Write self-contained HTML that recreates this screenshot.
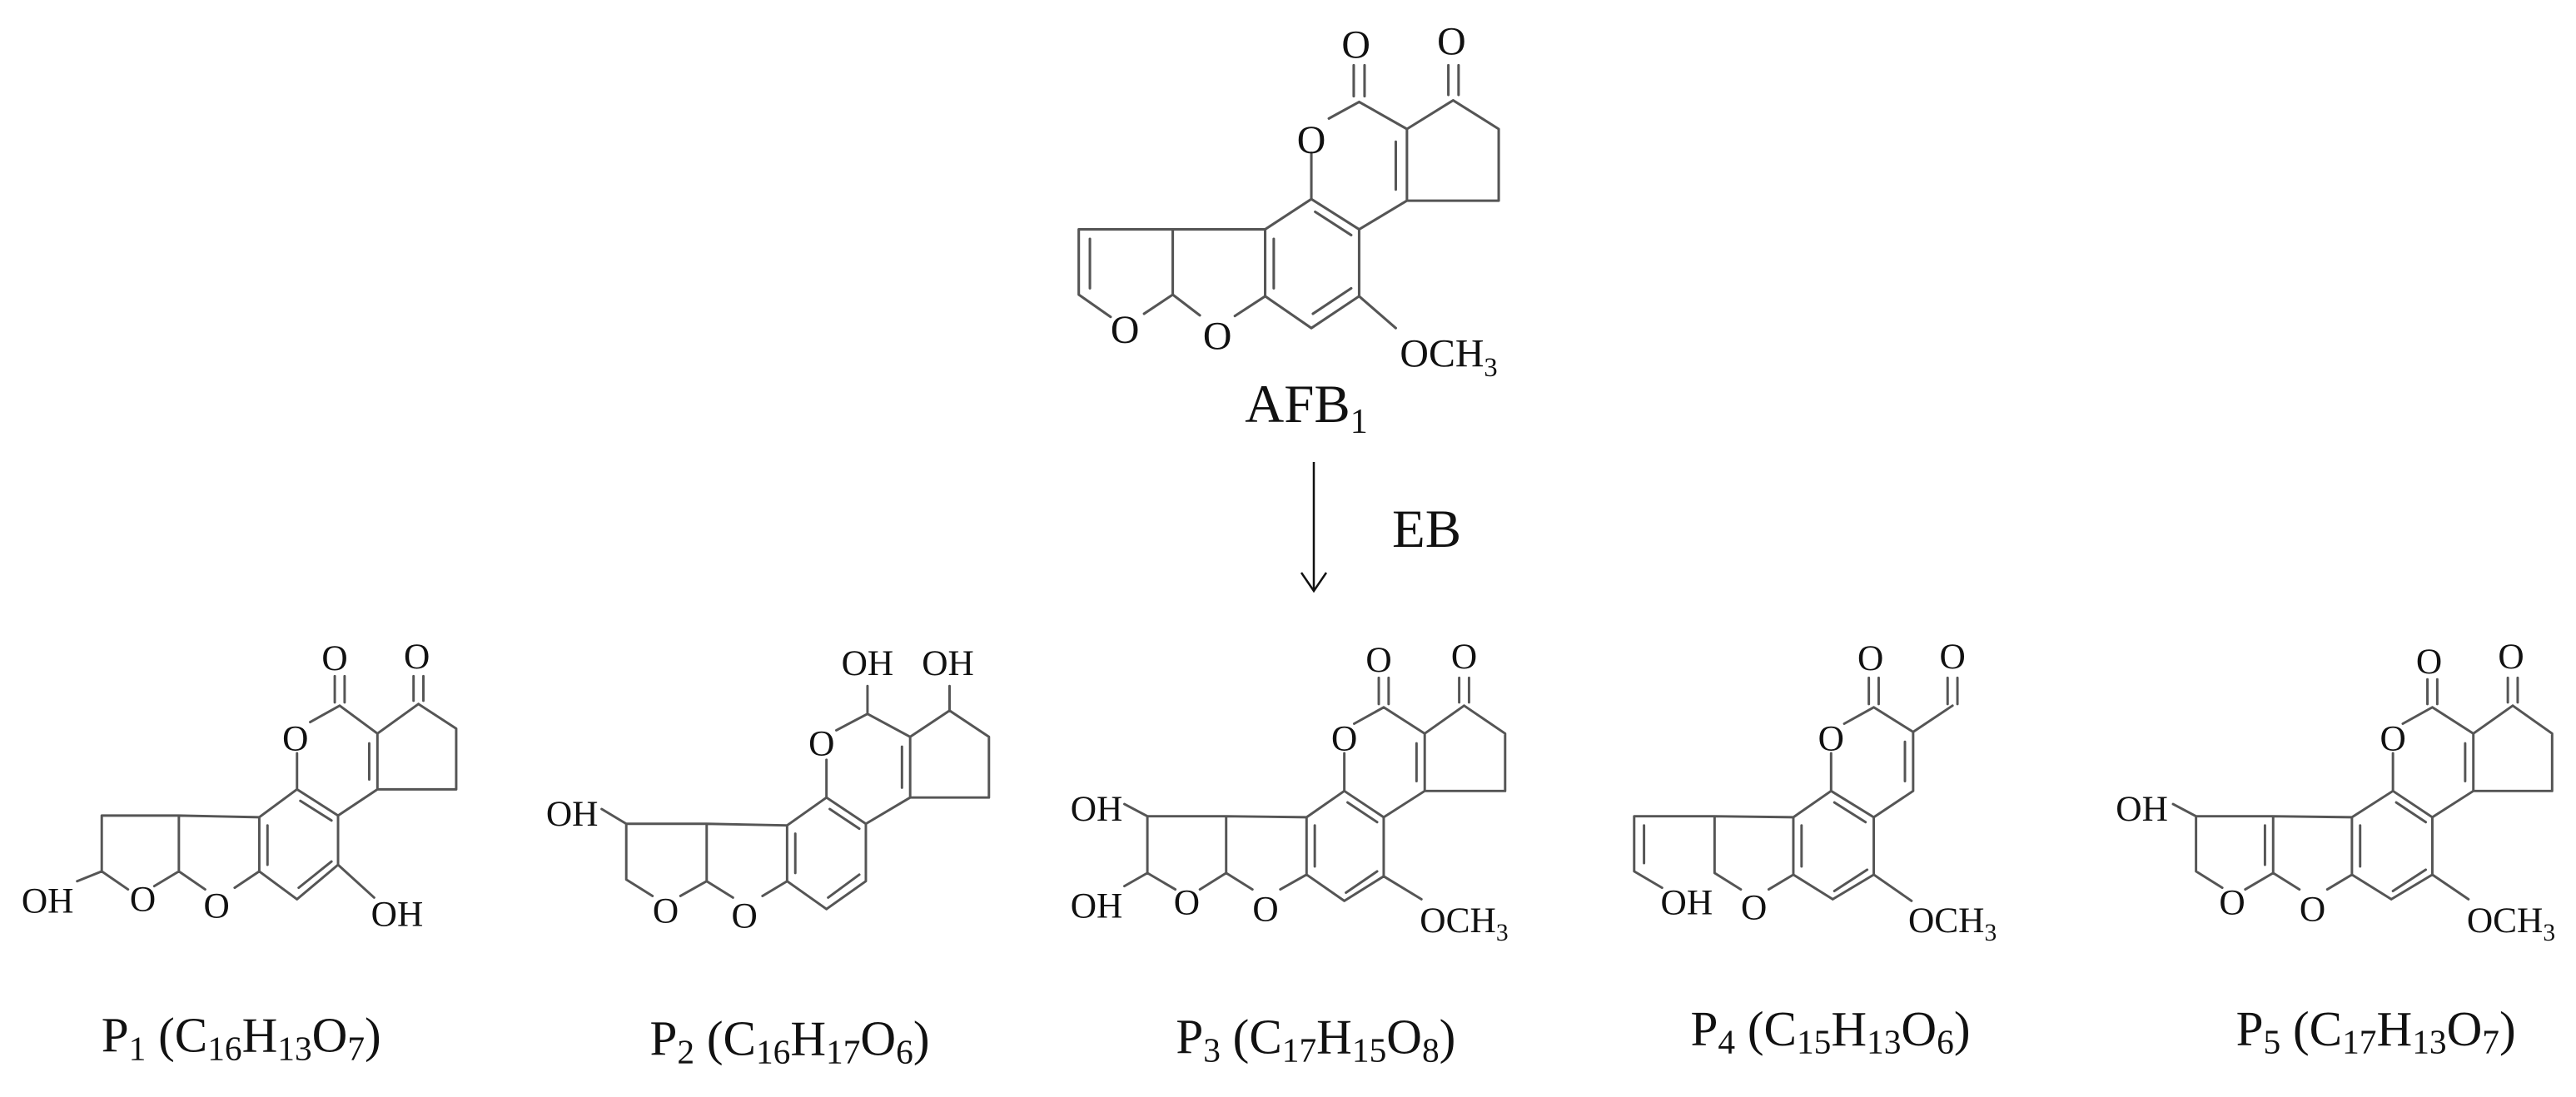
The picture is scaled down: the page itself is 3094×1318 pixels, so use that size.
<!DOCTYPE html>
<html><head><meta charset="utf-8"><style>
html,body{margin:0;padding:0;background:#fff;}
svg{display:block;}
.b{stroke:#555;stroke-width:7.5;fill:none;stroke-linecap:round;stroke-linejoin:round;}
.t{font-family:"Liberation Serif",serif;fill:#111;}
</style></head><body>
<svg width="3094" height="1318" viewBox="0 0 3094 1318" xmlns="http://www.w3.org/2000/svg">
<rect width="3094" height="1318" fill="#fff"/>

<!-- AFB1 -->
<g transform="translate(1200,0) scale(0.3827)">
<path class="b" style="stroke-width:8" d="M1113,205V302 M1147,205V302 M1410,205V298 M1442,205V298
M1130,320L1035,372 M1130,320L1280,405 M1425,315L1280,405 M1425,315L1568,405 L1568,630 L1280,630 M1280,405V630 M1245,445V595
M980,480V625 L1130,720 M992,665L1105,738 M1130,720V930 L980,1030 M1105,905L985,985 M980,1030L835,930 V720 L980,625 M862,750V905
M1130,720L1280,630 M835,720H545 V925 L455,985 M545,925L630,990 M740,992L835,930 M545,720H250 V925 L350,995 M285,750V905 M1130,930L1245,1030"/>
<g class="t" font-size="125" text-anchor="middle">
<text x="1120" y="181">O</text><text x="1420" y="171">O</text><text x="980" y="481">O</text>
<text x="395" y="1076">O</text><text x="685" y="1096">O</text>
</g>
<text class="t" x="1258" y="1151" font-size="125">OCH<tspan font-size="85" dy="30">3</tspan></text>
</g>
<text class="t" x="1569" y="507" font-size="65" text-anchor="middle">AFB<tspan font-size="42" dy="13">1</tspan></text>

<!-- arrow -->
<line x1="1578" y1="555" x2="1578" y2="708" stroke="#111" stroke-width="2.5"/>
<path d="M1563,688 L1578,710 L1593,688" stroke="#111" stroke-width="2.5" fill="none"/>
<text class="t" x="1672" y="657" font-size="65">EB</text>

<!-- P1 -->
<g transform="translate(0,700) scale(0.3942)">
<path class="b" d="M1020,285V365 M1050,285V365 M1260,285V360 M1290,285V360
M1035,375L945,425 M1035,375L1150,460 M1275,370L1150,460 M1275,370L1390,445 V630 H1150 M1150,460V630 M1125,490V600
M905,520V630 L1030,710 M915,665L1010,725 M1030,710V860 L905,965 M1010,850L910,930 M905,965L790,880 V715 L905,630 M815,740V860
M1030,710L1150,630 M790,715L545,710 V880 L470,925 M545,880L625,935 M715,930L790,880 M545,710H310 V880 L390,935 M310,880L235,910 M1030,860L1140,960"/>
<g class="t" font-size="110" text-anchor="middle">
<text x="1020" y="266">O</text><text x="1270" y="261">O</text><text x="900" y="511">O</text>
<text x="435" y="1001">O</text><text x="660" y="1021">O</text>
<text x="145" y="1006">OH</text><text x="1210" y="1046">OH</text>
</g>
<text class="t" x="735" y="1430" font-size="150" text-anchor="middle">P<tspan font-size="105" dy="25">1</tspan><tspan dy="-25"> (C</tspan><tspan font-size="105" dy="25">16</tspan><tspan dy="-25">H</tspan><tspan font-size="105" dy="25">13</tspan><tspan dy="-25">O</tspan><tspan font-size="105" dy="25">7</tspan><tspan dy="-25">)</tspan></text>
</g>

<!-- P2 -->
<g transform="translate(630,700) scale(0.3942)">
<path class="b" d="M1045,400V315 M1295,390V315
M1045,400L950,450 M1045,400L1175,470 M1295,390L1175,470 M1295,390L1415,470 V655 H1175 M1175,470V655 M1150,500V625
M920,540V655 L1040,735 M930,690L1020,750 M1040,735V910 L920,995 M1020,890L925,960 M920,995L800,910 V740 L920,655 M825,765V885
M1040,735L1175,655 M800,740L555,735 V910 L475,955 M555,910L635,960 M725,955L800,910 M555,735H310 V905 L390,955 M310,735L235,690"/>
<g class="t" font-size="110" text-anchor="middle">
<text x="1045" y="281">OH</text><text x="1290" y="281">OH</text><text x="905" y="526">O</text>
<text x="430" y="1036">O</text><text x="670" y="1051">O</text><text x="145" y="741">OH</text>
</g>
<text class="t" x="808" y="1440" font-size="150" text-anchor="middle">P<tspan font-size="105" dy="25">2</tspan><tspan dy="-25"> (C</tspan><tspan font-size="105" dy="25">16</tspan><tspan dy="-25">H</tspan><tspan font-size="105" dy="25">17</tspan><tspan dy="-25">O</tspan><tspan font-size="105" dy="25">6</tspan><tspan dy="-25">)</tspan></text>
</g>

<!-- P3 -->
<g transform="translate(1250,700) scale(0.3942)">
<path class="b" d="M1030,290V370 M1060,290V370 M1275,290V365 M1305,290V365
M1045,380L955,430 M1045,380L1170,460 M1290,375L1170,460 M1290,375L1415,460 V635 H1170 M1170,460V635 M1145,490V605
M925,520V635 L1045,715 M935,670L1025,730 M1045,715V895 L925,970 M1025,880L930,945 M925,970L810,890 V715 L925,635 M835,740V865
M1045,715L1170,635 M810,715L565,712 V885 L485,935 M565,885L645,935 M730,935L810,890 M565,712H325 V885 L410,935 M325,885L255,925 M325,712L255,675 M1045,895L1160,965"/>
<g class="t" font-size="110" text-anchor="middle">
<text x="1030" y="271">O</text><text x="1290" y="261">O</text><text x="925" y="511">O</text>
<text x="445" y="1011">O</text><text x="685" y="1031">O</text>
<text x="170" y="1021">OH</text><text x="170" y="726">OH</text>
</g>
<text class="t" x="1155" y="1066" font-size="110">OCH<tspan font-size="75" dy="25">3</tspan></text>
<text class="t" x="838" y="1435" font-size="150" text-anchor="middle">P<tspan font-size="105" dy="25">3</tspan><tspan dy="-25"> (C</tspan><tspan font-size="105" dy="25">17</tspan><tspan dy="-25">H</tspan><tspan font-size="105" dy="25">15</tspan><tspan dy="-25">O</tspan><tspan font-size="105" dy="25">8</tspan><tspan dy="-25">)</tspan></text>
</g>

<!-- P4 -->
<g transform="translate(1880,700) scale(0.3942)">
<path class="b" d="M925,290V370 M955,290V370 M1165,290V370 M1195,290V370 M1180,375L1060,455
M940,380L850,430 M940,380L1060,455 V635 L940,715 M1035,485V605
M810,520V635 L940,715 M820,670L915,730 M940,715V890 L815,965 M920,875L820,940 M815,965L695,890 V715 L810,635 M720,740V865
M695,715L455,712 V885 L535,935 M620,935L695,890 M455,712H210 V880 L295,930 M240,740V855 M940,890L1055,970"/>
<g class="t" font-size="110" text-anchor="middle">
<text x="930" y="266">O</text><text x="1180" y="261">O</text><text x="810" y="511">O</text>
<text x="575" y="1026">O</text><text x="370" y="1011">OH</text>
</g>
<text class="t" x="1045" y="1066" font-size="110">OCH<tspan font-size="75" dy="25">3</tspan></text>
<text class="t" x="808" y="1410" font-size="150" text-anchor="middle">P<tspan font-size="105" dy="25">4</tspan><tspan dy="-25"> (C</tspan><tspan font-size="105" dy="25">15</tspan><tspan dy="-25">H</tspan><tspan font-size="105" dy="25">13</tspan><tspan dy="-25">O</tspan><tspan font-size="105" dy="25">6</tspan><tspan dy="-25">)</tspan></text>
</g>

<!-- P5 -->
<g transform="translate(2476,700) scale(0.3942)">
<path class="b" d="M1115,295V370 M1145,295V370 M1360,290V365 M1390,290V365
M1130,380L1040,430 M1130,380L1255,460 M1375,375L1255,460 M1375,375L1495,460 V635 H1255 M1255,460V635 M1230,490V605
M1010,520V635 L1130,715 M1020,670L1110,730 M1130,715V890 L1005,965 M1110,875L1010,940 M1005,965L885,890 V715 L1010,635 M910,740V865
M1130,715L1255,635 M885,715L645,712 V885 L560,935 M620,740V860 M645,885L725,935 M810,935L885,890 M645,712H410 V880 L490,930 M410,712L340,675 M1130,890L1240,965"/>
<g class="t" font-size="110" text-anchor="middle">
<text x="1120" y="276">O</text><text x="1370" y="261">O</text><text x="1010" y="511">O</text>
<text x="520" y="1011">O</text><text x="765" y="1031">O</text><text x="245" y="726">OH</text>
</g>
<text class="t" x="1235" y="1066" font-size="110">OCH<tspan font-size="75" dy="25">3</tspan></text>
<text class="t" x="958" y="1410" font-size="150" text-anchor="middle">P<tspan font-size="105" dy="25">5</tspan><tspan dy="-25"> (C</tspan><tspan font-size="105" dy="25">17</tspan><tspan dy="-25">H</tspan><tspan font-size="105" dy="25">13</tspan><tspan dy="-25">O</tspan><tspan font-size="105" dy="25">7</tspan><tspan dy="-25">)</tspan></text>
</g>
</svg>
</body></html>
